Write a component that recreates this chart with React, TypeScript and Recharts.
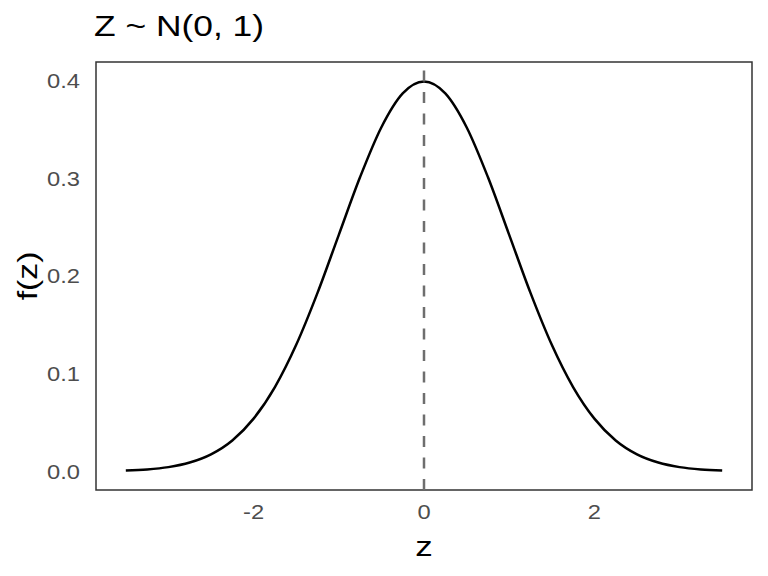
import { LineChart, Line, XAxis, YAxis, ReferenceLine, ReferenceArea } from 'recharts';

// z values and density readings taken off the curve
const zValues = [
  -3.5, -3.25, -3.0, -2.75, -2.5, -2.25, -2.0, -1.75, -1.5, -1.25, -1.0, -0.75, -0.5, -0.25,
  0, 0.25, 0.5, 0.75, 1.0, 1.25, 1.5, 1.75, 2.0, 2.25, 2.5, 2.75, 3.0, 3.25, 3.5,
];
const densityValues = [
  0.0009, 0.002, 0.0044, 0.0091, 0.0175, 0.0317, 0.054, 0.0863, 0.1295, 0.1826, 0.242, 0.3011, 0.3521, 0.3867,
  0.3989, 0.3867, 0.3521, 0.3011, 0.242, 0.1826, 0.1295, 0.0863, 0.054, 0.0317, 0.0175, 0.0091, 0.0044, 0.002, 0.0009,
];
const xTicks = [-2, 0, 2];
const yTicks = [0, 0.1, 0.2, 0.3, 0.4];
const meanLine = 0;

const xDomain: [number, number] = [-3.85, 3.85];
const yDomain: [number, number] = [-0.019, 0.4188];

const data = zValues.map((z, i) => ({ z, f: densityValues[i] }));

const FONT = '"Liberation Sans", Arial, Helvetica, sans-serif';
// the source text is set wider than Arial, so glyphs get stretched a little
const TICK_STRETCH = 1.13;
const LABEL_STRETCH = 1.25;

function XTick({ x, y, payload }: any) {
  return (
    <g transform={`translate(${x}, ${y}) scale(${TICK_STRETCH}, 1)`}>
      <text x={0} y={0} dy="0.71em" textAnchor="middle" fontSize={21} fill="#4d4d4d" fontFamily={FONT}>
        {payload.value}
      </text>
    </g>
  );
}

function YTick({ x, y, payload }: any) {
  return (
    <g transform={`translate(${x}, ${y}) scale(${TICK_STRETCH}, 1)`}>
      <text x={0} y={0} dy="0.355em" textAnchor="end" fontSize={21} fill="#4d4d4d" fontFamily={FONT}>
        {Number(payload.value).toFixed(1)}
      </text>
    </g>
  );
}

function XTitle({ viewBox }: any) {
  const cx = viewBox.x + viewBox.width / 2;
  return (
    <g transform={`translate(${cx}, 556) scale(${LABEL_STRETCH}, 1)`}>
      <text x={0} y={0} textAnchor="middle" fontSize={28} fill="#000" fontFamily={FONT}>
        z
      </text>
    </g>
  );
}

// rotated y axis title, centred on the panel
function YTitle({ viewBox }: any) {
  const cx = viewBox.x + 27;
  const cy = viewBox.y + viewBox.height / 2;
  return (
    <g transform={`translate(${cx}, ${cy}) rotate(-90) scale(${LABEL_STRETCH}, 1)`}>
      <text x={0} y={0} textAnchor="middle" dominantBaseline="central" fontSize={27} fill="#000" fontFamily={FONT}>
        f(z)
      </text>
    </g>
  );
}

export default function App() {
  return (
    <div style={{ position: 'fixed', left: 0, top: 0, width: 768, height: 576, background: '#fff' }}>
      <div
        style={{
          position: 'absolute',
          left: 94,
          top: 12,
          fontSize: 29,
          lineHeight: 1,
          fontFamily: FONT,
          color: '#000',
          whiteSpace: 'nowrap',
          transform: 'scaleX(1.22)',
          transformOrigin: 'left top',
        }}
      >
        Z ~ N(0, 1)
      </div>
      <LineChart width={768} height={576} data={data} margin={{ top: 62, right: 16, bottom: 0, left: 0 }}>
        <XAxis
          dataKey="z"
          type="number"
          domain={xDomain}
          ticks={xTicks}
          allowDataOverflow
          axisLine={false}
          tickLine={false}
          tickSize={8}
          tickMargin={6}
          height={86}
          tick={<XTick />}
          label={<XTitle />}
        />
        <YAxis
          type="number"
          domain={yDomain}
          ticks={yTicks}
          allowDataOverflow
          axisLine={false}
          tickLine={false}
          tickSize={8}
          tickMargin={8}
          width={96}
          tick={<YTick />}
          label={<YTitle />}
        />
        <ReferenceArea
          x1={xDomain[0]}
          x2={xDomain[1]}
          y1={yDomain[0]}
          y2={yDomain[1]}
          fill="none"
          stroke="#333"
          strokeWidth={1.5}
          fillOpacity={0}
        />
        <Line
          type="monotone"
          dataKey="f"
          stroke="#000"
          strokeWidth={2.5}
          dot={false}
          activeDot={false}
          isAnimationActive={false}
        />
        <ReferenceLine x={meanLine} stroke="#6e6e6e" strokeWidth={2.5} strokeDasharray="11 10.5" />
      </LineChart>
    </div>
  );
}
